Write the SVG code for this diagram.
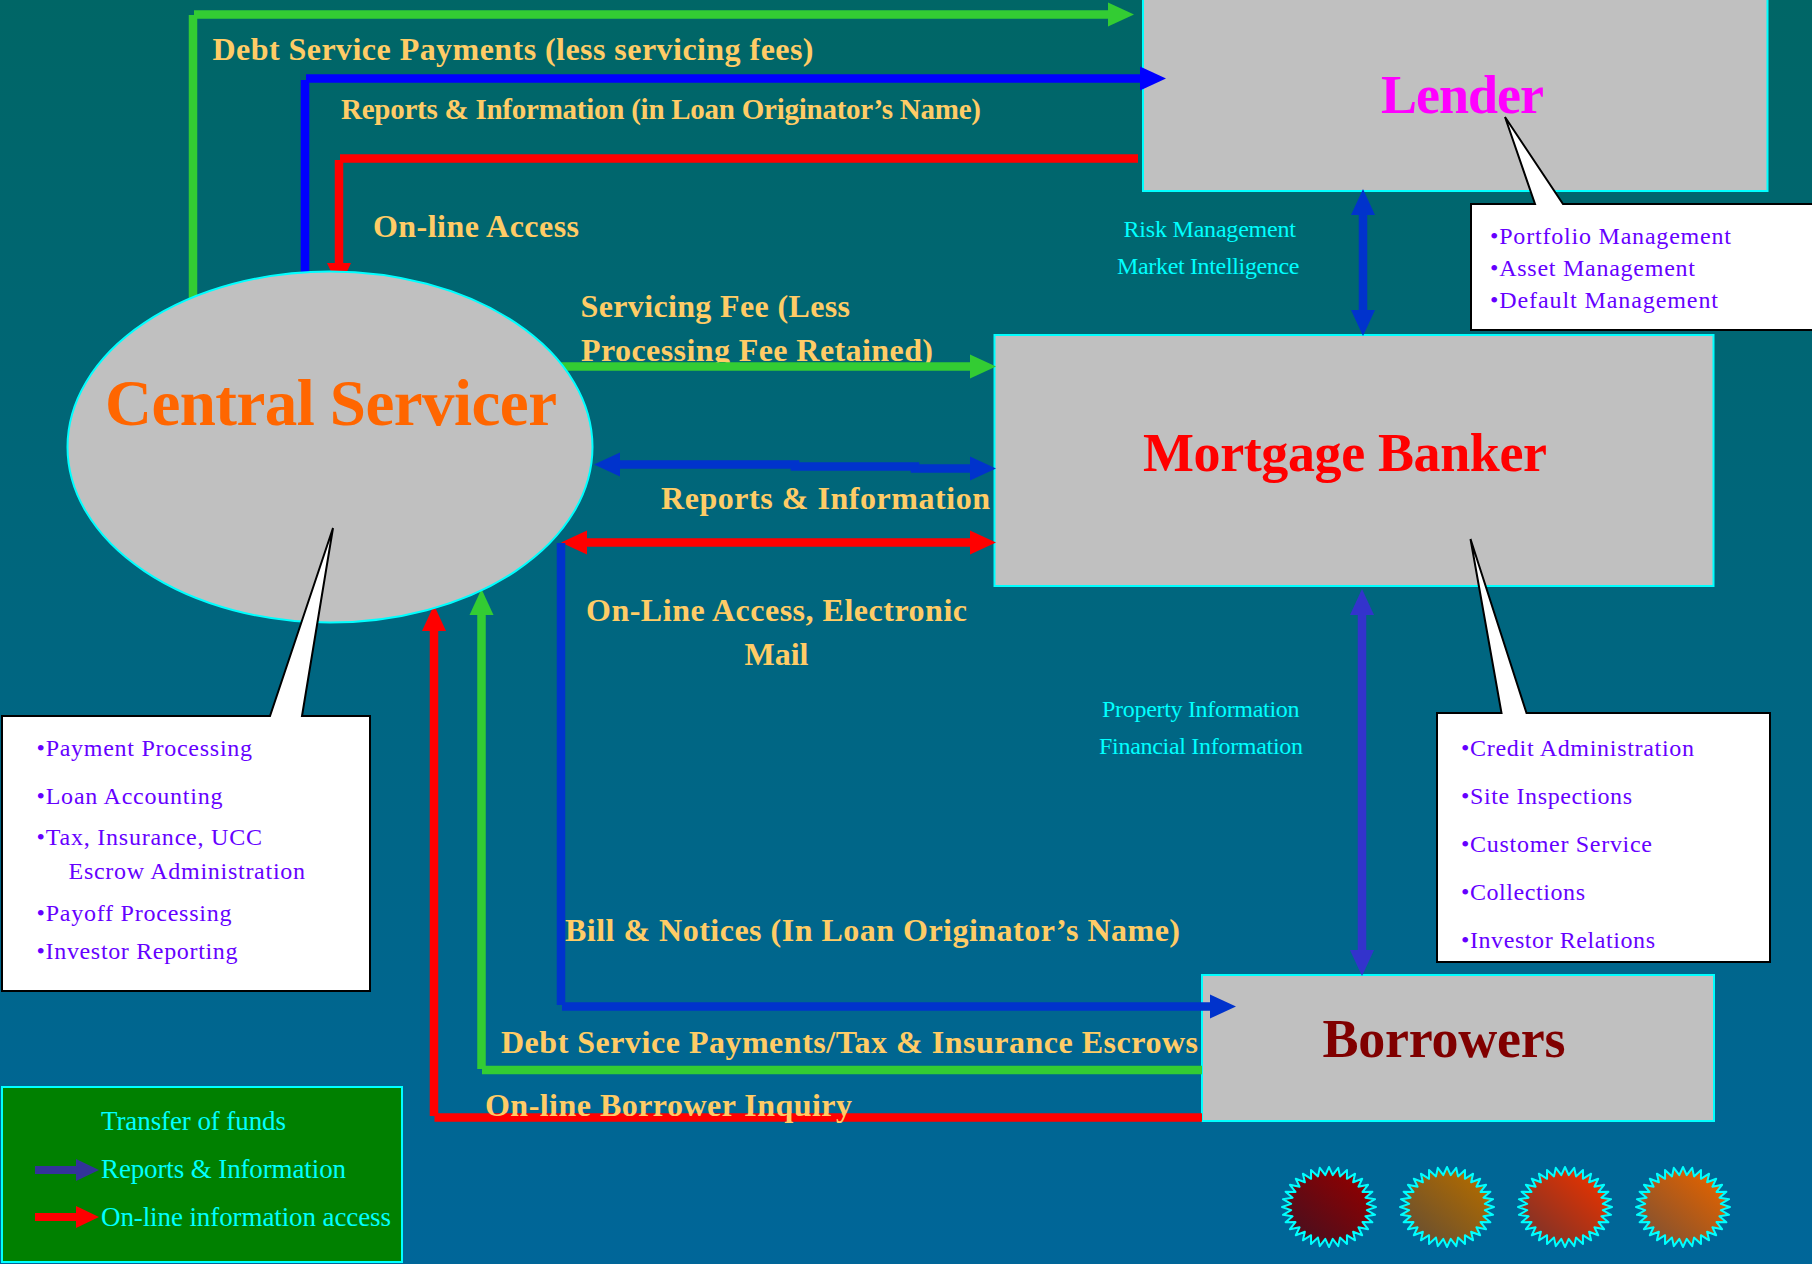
<svg xmlns="http://www.w3.org/2000/svg" xmlns:xlink="http://www.w3.org/1999/xlink" width="1812" height="1264" viewBox="0 0 1812 1264">
<style>
text{font-family:"Liberation Serif","Times New Roman",serif}
.lbl{font-weight:bold;fill:#ffcc66;font-size:32px}
.lbs{font-weight:bold;fill:#ffcc66;font-size:29px}
.cy{fill:#00ffff;font-size:24px}
.leg{fill:#00ffff;font-size:27px}
.bul{fill:#6600ff;font-size:24px}
.name{font-weight:bold}
.box{fill:#c0c0c0;stroke:#00ffff;stroke-width:2}
.call{fill:#fff;stroke:#000;stroke-width:2;stroke-linejoin:miter}
.c{fill:none;stroke-width:8.5}
.star{stroke:#00ffff;stroke-width:2;stroke-linejoin:round}
</style>
<defs>
<linearGradient id="bg" x1="0" y1="0" x2="0" y2="1"><stop offset="0" stop-color="#006666"/><stop offset="1" stop-color="#006699"/></linearGradient>
<linearGradient id="s1" x1="0" y1="1" x2="1" y2="0"><stop offset="0.15" stop-color="#4a0f1e"/><stop offset="0.85" stop-color="#8f0000"/></linearGradient>
<linearGradient id="s2" x1="0" y1="1" x2="1" y2="0"><stop offset="0.15" stop-color="#6a5030"/><stop offset="0.85" stop-color="#b06a00"/></linearGradient>
<linearGradient id="s3" x1="0" y1="1" x2="1" y2="0"><stop offset="0.15" stop-color="#803328"/><stop offset="0.85" stop-color="#e53300"/></linearGradient>
<linearGradient id="s4" x1="0" y1="1" x2="1" y2="0"><stop offset="0.15" stop-color="#855230"/><stop offset="0.85" stop-color="#e06200"/></linearGradient>
<marker id="hG" markerUnits="userSpaceOnUse" markerWidth="26" markerHeight="26" viewBox="0 0 26 26" refX="0" refY="13" orient="auto-start-reverse" overflow="visible"><path d="M0 1 L26 13 L0 25Z" fill="#33cc33"/></marker>
<marker id="hB" markerUnits="userSpaceOnUse" markerWidth="26" markerHeight="26" viewBox="0 0 26 26" refX="0" refY="13" orient="auto-start-reverse" overflow="visible"><path d="M0 1 L26 13 L0 25Z" fill="#0000ff"/></marker>
<marker id="hR" markerUnits="userSpaceOnUse" markerWidth="26" markerHeight="26" viewBox="0 0 26 26" refX="0" refY="13" orient="auto-start-reverse" overflow="visible"><path d="M0 1 L26 13 L0 25Z" fill="#ff0000"/></marker>
<marker id="hC" markerUnits="userSpaceOnUse" markerWidth="26" markerHeight="26" viewBox="0 0 26 26" refX="0" refY="13" orient="auto-start-reverse" overflow="visible"><path d="M0 1 L26 13 L0 25Z" fill="#0033cc"/></marker>
<marker id="hP" markerUnits="userSpaceOnUse" markerWidth="26" markerHeight="26" viewBox="0 0 26 26" refX="0" refY="13" orient="auto-start-reverse" overflow="visible"><path d="M0 1 L26 13 L0 25Z" fill="#3333cc"/></marker>
<marker id="hL" markerUnits="userSpaceOnUse" markerWidth="24" markerHeight="24" viewBox="0 0 24 24" refX="0" refY="12" orient="auto" overflow="visible"><path d="M0 1 L23 12 L0 23Z" fill="#333399"/></marker>
<marker id="hM" markerUnits="userSpaceOnUse" markerWidth="24" markerHeight="24" viewBox="0 0 24 24" refX="0" refY="12" orient="auto" overflow="visible"><path d="M0 1 L23 12 L0 23Z" fill="#ff0000"/></marker>
<polygon id="star" points="47,0 37.8,3.1 46.1,7.8 36.4,9.3 43.4,15.3 33.5,15.1 39.1,22.2 29.4,20.3 33.2,28.3 24.1,24.7 26.1,33.3 17.9,28.2 18,37 11,30.6 9.2,39.2 3.7,31.8 0,40 -3.7,31.8 -9.2,39.2 -11,30.6 -18,37 -17.9,28.2 -26.1,33.3 -24.1,24.7 -33.2,28.3 -29.4,20.3 -39.1,22.2 -33.5,15.1 -43.4,15.3 -36.4,9.3 -46.1,7.8 -37.8,3.1 -47,0 -37.8,-3.1 -46.1,-7.8 -36.4,-9.3 -43.4,-15.3 -33.5,-15.1 -39.1,-22.2 -29.4,-20.3 -33.2,-28.3 -24.1,-24.7 -26.1,-33.3 -17.9,-28.2 -18,-37 -11,-30.6 -9.2,-39.2 -3.7,-31.8 0,-40 3.7,-31.8 9.2,-39.2 11,-30.6 18,-37 17.9,-28.2 26.1,-33.3 24.1,-24.7 33.2,-28.3 29.4,-20.3 39.1,-22.2 33.5,-15.1 43.4,-15.3 36.4,-9.3 46.1,-7.8 37.8,-3.1"/>
</defs>
<rect width="1812" height="1264" fill="url(#bg)"/>
<text class="lbl" x="581" y="361" textLength="352">Processing Fee Retained)</text>
<g id="lender-box"><rect class="box" x="1143" y="-10" width="624.500" height="201"/></g>
<g id="mortgage-box"><rect class="box" x="994.500" y="335" width="719" height="251"/></g>
<g id="borrowers-box"><rect class="box" x="1202" y="975" width="512" height="146"/></g>
<g id="connectors">
<path class="c" stroke="#33cc33" d="M193 310V15M194 14.500H1108" marker-end="url(#hG)"/>
<path class="c" stroke="#0000ff" d="M305 290V80M306 78.500H1140" marker-end="url(#hB)"/>
<path class="c" stroke="#ff0000" d="M1138 158.500H340M339 160V263" marker-end="url(#hR)"/>
<path class="c" stroke="#33cc33" d="M555 366.500H970" marker-end="url(#hG)"/>
<path class="c" stroke="#0033cc" d="M620 464.500H795V466.500H915V468.500H970" marker-start="url(#hC)" marker-end="url(#hC)"/>
<path class="c" stroke="#ff0000" d="M587 542.500H970" marker-start="url(#hR)" marker-end="url(#hR)"/>
<path class="c" stroke="#0033cc" d="M561 543V1005M562 1006.500H1210" marker-end="url(#hC)"/>
<path class="c" stroke="#33cc33" d="M1202 1070H482M481.500 1069V615" marker-end="url(#hG)"/>
<path class="c" stroke="#ff0000" d="M1202 1117.500H434.500M434 1116V631" marker-end="url(#hR)"/>
<path class="c" stroke="#0033cc" stroke-width="11" d="M1363 215V310" marker-start="url(#hC)" marker-end="url(#hC)"/>
<path class="c" stroke="#3333cc" d="M1362 615V950" marker-start="url(#hP)" marker-end="url(#hP)"/>
</g>
<g id="central-servicer">
<ellipse cx="330" cy="447" rx="262.500" ry="175.500" fill="#c0c0c0" stroke="#00ffff" stroke-width="2"/>
<text class="name" x="105" y="425" font-size="65" fill="#ff6600" textLength="452">Central Servicer</text>
</g>
<g id="lender"><text class="name" x="1381" y="113" font-size="54" fill="#ff00ff" textLength="163">Lender</text></g>
<g id="mortgage-banker"><text class="name" x="1143" y="471" font-size="54" fill="#ff0000" textLength="404">Mortgage Banker</text></g>
<g id="borrowers"><text class="name" x="1322.500" y="1057" font-size="54" fill="#800000" textLength="243">Borrowers</text></g>
<g id="lender-callout">
<path class="call" d="M1471 204H1535L1505 117L1563 204H1830V330H1471Z"/>
<text class="bul" x="1490" y="244" textLength="241">•Portfolio Management</text>
<text class="bul" x="1490" y="276" textLength="205">•Asset Management</text>
<text class="bul" x="1490" y="308" textLength="228">•Default Management</text>
</g>
<g id="mortgage-callout">
<path class="call" d="M1437 713H1501.500L1470.500 539L1526.500 713H1770V962H1437Z"/>
<text class="bul" x="1461" y="756" textLength="233">•Credit Administration</text>
<text class="bul" x="1461" y="804" textLength="171">•Site Inspections</text>
<text class="bul" x="1461" y="852" textLength="191">•Customer Service</text>
<text class="bul" x="1461" y="900" textLength="124">•Collections</text>
<text class="bul" x="1461" y="948" textLength="194">•Investor Relations</text>
</g>
<g id="central-callout">
<path class="call" d="M2 716H270L333 528L302 716H370V991H2Z"/>
<text class="bul" x="36.500" y="756" textLength="215.500">•Payment Processing</text>
<text class="bul" x="36.500" y="804" textLength="186">•Loan Accounting</text>
<text class="bul" x="36.500" y="845" textLength="225.500">•Tax, Insurance, UCC</text>
<text class="bul" x="68.500" y="879" textLength="236.500">Escrow Administration</text>
<text class="bul" x="36.500" y="921" textLength="195">•Payoff Processing</text>
<text class="bul" x="36.500" y="959" textLength="201">•Investor Reporting</text>
</g>
<g id="labels">
<text class="lbl" x="212.500" y="60" textLength="601">Debt Service Payments (less servicing fees)</text>
<text class="lbs" x="341" y="119" textLength="640">Reports &amp; Information (in Loan Originator’s Name)</text>
<text class="lbl" x="373" y="237" textLength="206">On-line Access</text>
<text class="lbl" x="580.500" y="317" textLength="269.500">Servicing Fee (Less</text>
<text class="lbl" x="661" y="509" textLength="329">Reports &amp; Information</text>
<text class="lbl" x="586" y="621" textLength="381">On-Line Access, Electronic</text>
<text class="lbl" x="744.500" y="665" textLength="64">Mail</text>
<text class="lbl" x="565" y="941" textLength="615">Bill &amp; Notices (In Loan Originator’s Name)</text>
<text class="lbl" x="501" y="1053" textLength="697">Debt Service Payments/Tax &amp; Insurance Escrows</text>
<text class="lbl" x="485" y="1116" textLength="367">On-line Borrower Inquiry</text>
<text class="cy" x="1123.500" y="237" textLength="172.500">Risk Management</text>
<text class="cy" x="1117" y="274" textLength="182.500">Market Intelligence</text>
<text class="cy" x="1102" y="717" textLength="197.500">Property Information</text>
<text class="cy" x="1099" y="754" textLength="204">Financial Information</text>
</g>
<g id="legend">
<rect x="2" y="1087" width="400" height="175" fill="#008000" stroke="#00ffff" stroke-width="2"/>
<text class="leg" x="101" y="1130" textLength="185">Transfer of funds</text>
<text class="leg" x="101" y="1178" textLength="245">Reports &amp; Information</text>
<text class="leg" x="101" y="1226" textLength="290">On-line information access</text>
<path d="M35 1170H76" fill="none" stroke="#333399" stroke-width="8" marker-end="url(#hL)"/>
<path d="M35 1217H76" fill="none" stroke="#ff0000" stroke-width="8" marker-end="url(#hM)"/>
</g>
<g id="bursts">
<use href="#star" class="star" x="1329" y="1207" fill="url(#s1)"/>
<use href="#star" class="star" x="1447" y="1207" fill="url(#s2)"/>
<use href="#star" class="star" x="1565" y="1207" fill="url(#s3)"/>
<use href="#star" class="star" x="1683" y="1207" fill="url(#s4)"/>
</g>
</svg>
